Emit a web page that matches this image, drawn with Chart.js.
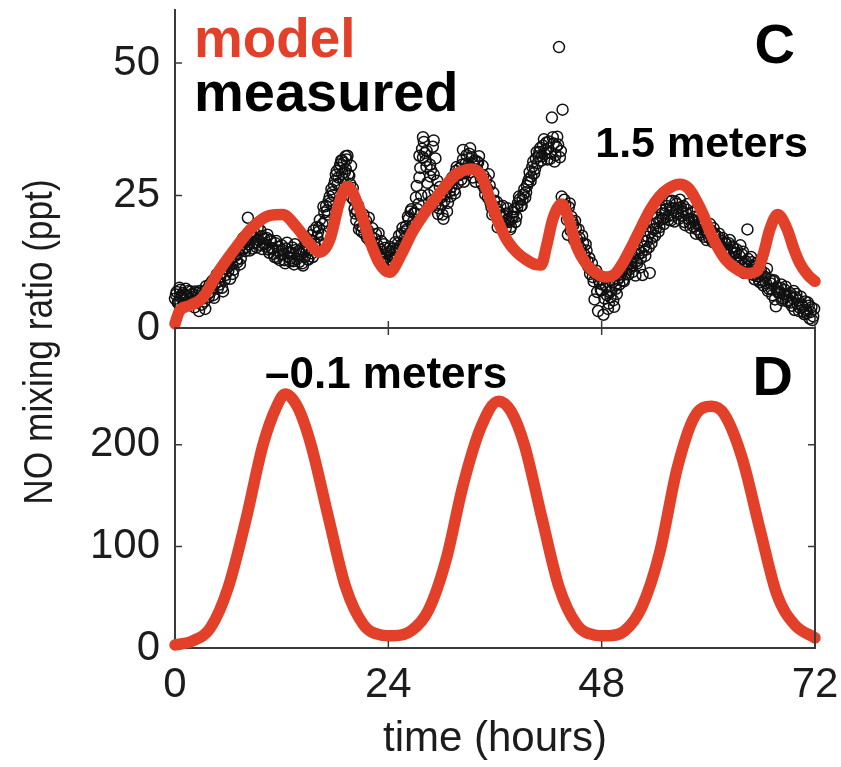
<!DOCTYPE html>
<html>
<head>
<meta charset="utf-8">
<script src="https://cdn.jsdelivr.net/npm/chart.js@4.4.1/dist/chart.umd.min.js"></script>
<style>
  html, body { margin: 0; padding: 0; background: #fff; }
  #wrap { position: relative; width: 841px; height: 767px; }
  canvas { position: absolute; left: 0; top: 0; }
</style>
</head>
<body>
<div id="wrap">
  <canvas id="panelC" width="841" height="767"></canvas>
  <canvas id="panelD" width="841" height="767"></canvas>
</div>
<script>
const SANS = '"Liberation Sans", Arial, Helvetica, sans-serif';
const RED = '#e3402a';
const INK = '#1c1c1c';
const AXIS = '#3a3a3a';

// tick values
const hourTicks = [0, 24, 48, 72];
const ticksC = [0, 25, 50];
const ticksD = [0, 100, 200];

// panel C, model at 1.5 m
const modelCHours = [0, 0.5, 1.6, 3.1, 5.0, 6.9, 8.7, 10.6, 12.1, 13.7, 15.1, 16.3, 17.4, 18.5, 19.4, 20.8, 21.9, 23.0, 24.1,
  25.5, 26.6, 27.8, 29.5, 31.5, 33.4, 34.5, 35.5, 36.5, 37.5, 38.5, 39.5, 40.5, 41.2, 41.8, 42.5, 43.5, 44.3, 45.2, 46.3, 47.4,
  48.5, 49.5, 50.5, 51.5, 52.5, 53.5, 54.5, 55.5, 56.8, 57.8, 58.6, 59.4, 60.1, 61.0, 62.0, 63.0, 64.3, 65.5, 66.2, 66.9, 67.8,
  68.9, 69.6, 70.3, 71.2, 72];
const modelCValues = [0.8, 3.2, 4.2, 5.7, 10.9, 15.3, 19.0, 21.2, 21.4, 19.0, 16.0, 14.3, 16.6, 23.7, 26.7, 22.3, 16.6, 12.2, 10.5,
  14.0, 17.8, 21.0, 24.8, 28.8, 30.0, 28.6, 24.0, 19.5, 16.2, 14.2, 12.9, 12.0, 11.9, 15.5, 20.5, 23.4, 20.5, 15.3, 12.0, 10.3,
  9.6, 10.2, 12.6, 15.8, 19.2, 22.4, 24.8, 26.3, 27.1, 26.3, 24.2, 21.5, 18.5, 15.4, 12.8, 11.3, 10.3, 10.8, 14.0, 18.5, 21.4,
  18.5, 15.0, 12.2, 10.0, 8.8];

// panel C, measured: one row per hour, samples every 12 min (two interleaved passes)
const measuredStep = 0.2;
const measuredRows = [
  [5.5, 6.8, 4.9, 7.2, 6.1],
  [5.2, 7.4, 6.0, 4.6, 6.9],
  [5.8, 3.9, 6.6, 5.1, 7.0],
  [4.4, 6.2, 3.6, 7.3, 5.9],
  [6.8, 8.9, 5.7, 9.6, 7.4],
  [8.2, 10.4, 6.9, 9.1, 11.2],
  [10.8, 9.3, 12.1, 11.0, 13.6],
  [12.4, 14.8, 13.1, 16.2, 15.0],
  [15.3, 20.8, 14.6, 17.4, 16.0],
  [17.8, 15.2, 16.6, 18.4, 14.9],
  [16.9, 15.4, 17.6, 14.2, 16.3],
  [15.0, 13.4, 16.4, 14.6, 12.8],
  [15.6, 13.9, 12.2, 16.1, 14.3],
  [13.1, 15.2, 12.0, 14.7, 13.6],
  [12.5, 14.9, 11.8, 13.4, 15.7],
  [12.9, 16.6, 14.1, 18.4, 15.2],
  [17.2, 18.9, 16.0, 19.6, 21.8],
  [23.0, 21.4, 24.8, 26.2, 25.1],
  [27.8, 29.6, 28.4, 30.9, 29.1],
  [31.2, 30.0, 32.5, 28.7, 30.6],
  [26.4, 22.5, 20.3, 23.1, 19.4],
  [18.2, 21.4, 19.6, 17.0, 20.8],
  [16.3, 18.8, 14.9, 17.7, 15.6],
  [13.6, 16.4, 12.4, 15.1, 14.0],
  [12.6, 15.3, 13.8, 11.9, 16.2],
  [14.8, 17.4, 15.6, 18.9, 16.8],
  [19.2, 21.0, 17.9, 22.4, 20.1],
  [21.6, 26.8, 23.4, 30.2, 33.8],
  [35.1, 31.6, 27.4, 22.8, 29.8],
  [34.2, 25.9, 24.0, 21.5, 26.6],
  [23.3, 20.6, 25.2, 22.0, 27.1],
  [24.8, 28.4, 26.0, 29.6, 27.3],
  [30.1, 28.0, 31.8, 29.2, 32.6],
  [30.8, 29.4, 32.2, 31.0, 27.6],
  [29.9, 32.4, 28.3, 30.6, 26.4],
  [28.0, 24.6, 26.9, 22.8, 25.5],
  [21.6, 23.8, 20.2, 22.9, 19.5],
  [21.2, 18.8, 22.6, 20.0, 19.1],
  [20.8, 22.4, 21.0, 23.6, 24.3],
  [23.1, 25.2, 24.6, 26.8, 28.0],
  [27.7, 30.4, 29.2, 32.0, 31.1],
  [33.2, 31.6, 34.4, 32.8, 35.0],
  [33.9, 31.9, 39.7, 34.8, 32.6],
  [36.1, 53.0, 33.4, 41.2, 24.2],
  [22.1, 17.6, 23.5, 21.0, 19.4],
  [20.2, 16.8, 18.6, 15.1, 17.4],
  [14.0, 15.8, 12.6, 13.2, 11.0],
  [9.6, 5.4, 10.8, 3.2, 8.4],
  [7.1, 2.5, 9.4, 6.2, 4.6],
  [5.8, 8.6, 4.0, 7.4, 9.1],
  [8.2, 10.6, 9.0, 12.4, 11.3],
  [10.1, 12.8, 11.6, 13.4, 9.9],
  [12.2, 14.6, 13.1, 10.0, 15.4],
  [14.8, 17.2, 10.4, 16.0, 18.6],
  [17.4, 19.8, 18.2, 20.4, 21.6],
  [19.6, 22.4, 21.0, 23.8, 20.3],
  [22.6, 20.1, 23.4, 21.5, 24.2],
  [21.2, 23.0, 19.4, 22.3, 20.6],
  [18.9, 21.8, 20.2, 17.8, 20.9],
  [19.3, 17.6, 20.4, 18.4, 16.6],
  [18.0, 19.6, 16.9, 18.8, 17.4],
  [16.2, 17.8, 15.4, 17.0, 14.6],
  [15.9, 13.8, 16.6, 14.4, 15.2],
  [13.2, 14.8, 12.4, 15.6, 13.9],
  [10.4, 12.6, 18.6, 11.8, 13.4],
  [11.0, 9.2, 12.2, 10.4, 8.6],
  [10.1, 8.0, 9.6, 11.2, 7.4],
  [8.4, 6.2, 9.0, 4.1, 7.6],
  [6.8, 8.2, 5.6, 7.2, 6.0],
  [5.3, 6.6, 4.2, 7.0, 5.8],
  [4.6, 3.2, 5.9, 4.0, 2.6],
  [3.4, 4.8, 1.8, 3.9, 2.2]
];
// second pass, 6 min after each sample above
const measuredOffsetB = 0.1;
const measuredRowsB = [
  [6.3, 4.8, 7.6, 5.7, 6.6],
  [6.1, 4.9, 7.0, 5.5, 6.4],
  [4.7, 6.9, 5.3, 3.2, 6.1],
  [6.8, 5.0, 7.9, 6.4, 8.2],
  [7.9, 6.2, 8.4, 10.1, 8.8],
  [9.7, 7.6, 11.8, 10.0, 12.3],
  [11.7, 13.0, 10.2, 14.4, 12.8],
  [14.1, 12.0, 15.6, 17.0, 14.5],
  [16.7, 15.8, 18.2, 15.0, 17.1],
  [16.2, 18.9, 15.7, 17.3, 16.0],
  [15.8, 17.0, 14.8, 16.6, 15.1],
  [14.0, 16.0, 13.2, 15.3, 13.9],
  [14.7, 12.8, 15.0, 13.5, 12.6],
  [14.2, 12.6, 15.8, 13.0, 14.5],
  [13.9, 12.2, 14.3, 16.4, 13.0],
  [14.8, 17.5, 13.4, 15.9, 19.0],
  [18.1, 20.4, 17.6, 22.9, 20.2],
  [22.2, 24.0, 23.6, 25.6, 27.0],
  [28.9, 27.2, 30.2, 31.6, 28.2],
  [29.4, 31.8, 29.0, 27.2, 24.6],
  [24.2, 21.6, 22.0, 18.6, 21.2],
  [19.0, 17.8, 20.2, 18.4, 16.5],
  [17.2, 15.4, 16.8, 14.4, 17.9],
  [14.8, 13.0, 15.8, 13.3, 12.8],
  [14.4, 12.9, 15.0, 13.2, 14.6],
  [16.0, 15.0, 17.9, 16.2, 18.2],
  [18.6, 20.6, 22.0, 19.4, 21.7],
  [24.6, 22.4, 28.4, 25.0, 32.2],
  [33.0, 30.4, 25.1, 28.6, 24.0],
  [29.0, 23.2, 27.8, 22.6, 24.6],
  [21.4, 24.0, 26.2, 23.6, 25.8],
  [26.6, 27.9, 25.4, 30.4, 28.8],
  [29.0, 30.8, 27.6, 31.0, 30.2],
  [32.9, 30.2, 28.4, 31.6, 29.8],
  [31.2, 29.0, 27.2, 28.8, 25.2],
  [26.4, 29.0, 23.6, 21.4, 24.0],
  [22.6, 19.0, 21.8, 20.8, 23.0],
  [19.8, 21.6, 20.4, 18.6, 21.0],
  [21.8, 20.0, 22.8, 24.8, 23.0],
  [24.2, 26.2, 25.6, 27.4, 29.4],
  [28.6, 31.4, 30.0, 33.2, 32.4],
  [34.0, 32.4, 35.6, 33.6, 31.8],
  [35.2, 33.0, 36.0, 31.4, 34.2],
  [34.6, 32.2, 24.8, 22.6, 23.2],
  [20.4, 22.8, 18.4, 20.0, 16.6],
  [18.8, 15.8, 17.0, 14.2, 16.0],
  [12.8, 14.6, 11.6, 10.2, 12.2],
  [8.8, 10.2, 6.8, 9.0, 7.2],
  [8.2, 5.6, 7.8, 3.6, 6.8],
  [7.0, 5.2, 8.0, 6.4, 10.0],
  [9.6, 11.4, 8.8, 10.2, 12.0],
  [11.0, 12.2, 10.6, 14.0, 12.6],
  [13.8, 11.4, 14.2, 16.4, 13.6],
  [16.4, 15.2, 18.0, 17.0, 19.6],
  [18.8, 20.8, 19.0, 22.2, 20.6],
  [21.6, 23.0, 20.4, 22.6, 24.0],
  [21.2, 23.8, 22.0, 20.6, 22.8],
  [22.0, 20.0, 21.6, 23.4, 19.8],
  [20.6, 19.2, 21.0, 18.6, 19.6],
  [18.0, 20.0, 17.2, 19.0, 18.2],
  [17.0, 18.4, 16.2, 17.8, 16.0],
  [17.2, 15.0, 16.4, 14.2, 16.0],
  [14.8, 16.0, 13.2, 15.4, 14.0],
  [14.2, 12.8, 13.6, 11.8, 14.4],
  [12.0, 11.2, 13.0, 10.8, 12.4],
  [10.0, 11.6, 9.8, 9.0, 11.0],
  [9.0, 10.4, 8.4, 7.0, 9.2],
  [7.4, 8.8, 5.4, 7.0, 6.6],
  [7.6, 5.2, 6.4, 7.8, 5.0],
  [6.2, 4.8, 5.6, 3.4, 6.4],
  [5.2, 3.8, 4.4, 3.0, 5.0],
  [2.8, 4.2, 3.0, 1.5, 3.6]
];
// extra samples in the dense spots
const measuredExtraHours = [18.8, 19.2, 27.5, 27.9, 28.3, 28.7, 29.1, 29.3, 32.4, 33.2, 34.0];
const measuredExtraValues = [31.6, 32.4, 32.5, 36.0, 33.4, 30.8, 35.4, 32.0, 33.6, 33.9, 31.4];

// panel D, model at -0.1 m
const modelDHours = [0, 2, 4, 6, 8, 9.9, 11.4, 12.4, 13.8, 15.3, 17.3, 19.2, 21.2, 23.1, 24.6, 26.6, 28.5, 30.5, 32.4, 34.4,
  36.4, 37.8, 39.3, 41.3, 43.2, 45.2, 47.1, 48.6, 50.6, 52.5, 54.5, 56.5, 58.4, 60.4, 61.8, 63.8, 65.8, 67.7, 69.7, 72];
const modelDValues = [3, 7, 20, 60, 127, 200, 237, 250, 237, 200, 127, 60, 23, 13, 12, 17, 37, 87, 160, 217,
  243, 233, 200, 127, 60, 23, 13, 12, 17, 40, 93, 177, 227, 238, 230, 187, 117, 53, 23, 10];

const toXY = (xs, ys) => xs.map((x, i) => ({ x: x, y: ys[i] }));

const measuredPoints = [];
measuredRows.forEach((row, hour) => {
  row.forEach((v, k) => measuredPoints.push({ x: hour + k * measuredStep, y: v }));
});
measuredRowsB.forEach((row, hour) => {
  row.forEach((v, k) => measuredPoints.push({ x: hour + measuredOffsetB + k * measuredStep, y: v }));
});
measuredExtraHours.forEach((h, i) => measuredPoints.push({ x: h, y: measuredExtraValues[i] }));

function drawLabel(ctx, text, x, y, size, color, align, squeeze) {
  ctx.save();
  ctx.translate(x, y);
  ctx.scale(squeeze, 1);
  ctx.font = 'bold ' + size + 'px ' + SANS;
  ctx.fillStyle = color;
  ctx.textAlign = align;
  ctx.textBaseline = 'alphabetic';
  ctx.fillText(text, 0, 0);
  ctx.restore();
}

// inward tick marks (and the closing box lines for panel D)
function tickMarks(chart, spec) {
  const { ctx, chartArea: a, scales } = chart;
  const x = scales.x, y = scales.y;
  const len = 7;
  ctx.save();
  ctx.strokeStyle = AXIS;
  ctx.lineWidth = 1.5;
  ctx.beginPath();
  (spec.left || []).forEach(v => { const p = y.getPixelForValue(v); ctx.moveTo(a.left, p); ctx.lineTo(a.left + len, p); });
  (spec.right || []).forEach(v => { const p = y.getPixelForValue(v); ctx.moveTo(a.right, p); ctx.lineTo(a.right - len, p); });
  (spec.bottom || []).forEach(v => { const p = x.getPixelForValue(v); ctx.moveTo(p, a.bottom); ctx.lineTo(p, a.bottom - len); });
  (spec.top || []).forEach(v => { const p = x.getPixelForValue(v); ctx.moveTo(p, a.top); ctx.lineTo(p, a.top + len); });
  ctx.stroke();
  if (spec.box) {
    ctx.lineWidth = 2;
    ctx.beginPath();
    ctx.moveTo(a.left, a.top);
    ctx.lineTo(a.right, a.top);
    ctx.lineTo(a.right, a.bottom);
    ctx.stroke();
  }
  ctx.restore();
}

const panelCDecor = {
  id: 'panelCDecor',
  afterDraw(chart) {
    const { ctx, chartArea: a } = chart;
    tickMarks(chart, { left: [25, 50], bottom: [24, 48, 72] });
    drawLabel(ctx, 'model', a.left + 19, 57, 56, RED, 'left', 0.98);
    drawLabel(ctx, 'measured', a.left + 19, 111, 56, '#000', 'left', 1);
    drawLabel(ctx, 'C', a.right - 20, 63, 56, '#000', 'right', 1);
    drawLabel(ctx, '1.5 meters', a.right - 7, 157, 43, '#000', 'right', 1);
  }
};

const panelDDecor = {
  id: 'panelDDecor',
  afterDraw(chart) {
    const { ctx, chartArea: a } = chart;
    tickMarks(chart, { left: [100, 200], right: [100, 200], bottom: [24, 48], top: [24, 48], box: true });
    drawLabel(ctx, '\u20130.1 meters', a.left + 90, 388, 44, '#000', 'left', 1);
    drawLabel(ctx, 'D', a.right - 22, 395, 56, '#000', 'right', 1);
    // shared y title for both panels
    ctx.save();
    ctx.translate(41, 342);
    ctx.rotate(-Math.PI / 2);
    ctx.scale(0.86, 1);
    ctx.font = '41px ' + SANS;
    ctx.fillStyle = INK;
    ctx.textAlign = 'center';
    ctx.textBaseline = 'middle';
    ctx.fillText('NO mixing ratio (ppt)', 0, 0);
    ctx.restore();
  }
};

function yScale(max, values) {
  return {
    type: 'linear',
    min: 0,
    max: max,
    afterBuildTicks: s => { s.ticks = values.map(v => ({ value: v })); },
    afterFit: s => { s.width = 175; s.paddingTop = 0; s.paddingBottom = 0; },
    ticks: { font: { family: SANS, size: 42 }, color: INK, padding: 15 },
    grid: { display: false, drawTicks: false },
    border: { display: true, color: AXIS, width: 2 }
  };
}

function xScale(height, showLabels) {
  return {
    type: 'linear',
    min: 0,
    max: 72,
    afterBuildTicks: s => { s.ticks = hourTicks.map(v => ({ value: v })); },
    afterFit: s => { s.height = height; s.paddingLeft = 0; s.paddingRight = 0; },
    ticks: { display: showLabels, font: { family: SANS, size: 42 }, color: INK, padding: 12 },
    grid: { display: false, drawTicks: false },
    border: { display: true, color: AXIS, width: 2 },
    title: {
      display: showLabels,
      text: 'time (hours)',
      font: { family: SANS, size: 42 },
      color: INK,
      padding: { top: 0, bottom: 2 }
    }
  };
}

Chart.defaults.font.family = SANS;

new Chart(document.getElementById('panelC'), {
  type: 'scatter',
  data: {
    datasets: [
      {
        label: 'model',
        data: toXY(modelCHours, modelCValues),
        showLine: true,
        borderColor: RED,
        borderWidth: 11.5,
        borderCapStyle: 'round',
        borderJoinStyle: 'round',
        cubicInterpolationMode: 'monotone',
        pointRadius: 0,
        clip: false,
        order: 0
      },
      {
        label: 'measured',
        data: measuredPoints,
        pointStyle: 'circle',
        pointRadius: 5.5,
        pointBorderWidth: 1.5,
        pointBackgroundColor: 'rgba(0,0,0,0)',
        pointBorderColor: '#111',
        clip: false,
        order: 1
      }
    ]
  },
  options: {
    responsive: false,
    animation: false,
    devicePixelRatio: 1,
    events: [],
    layout: { padding: { top: 10, right: 26, bottom: 439, left: 0 } },
    scales: { x: xScale(0, false), y: yScale(60, ticksC) },
    plugins: { legend: { display: false }, tooltip: { enabled: false } }
  },
  plugins: [panelCDecor]
});

new Chart(document.getElementById('panelD'), {
  type: 'scatter',
  data: {
    datasets: [
      {
        label: 'model',
        data: toXY(modelDHours, modelDValues),
        showLine: true,
        borderColor: RED,
        borderWidth: 11.5,
        borderCapStyle: 'round',
        borderJoinStyle: 'round',
        cubicInterpolationMode: 'monotone',
        pointRadius: 0,
        clip: false
      }
    ]
  },
  options: {
    responsive: false,
    animation: false,
    devicePixelRatio: 1,
    events: [],
    layout: { padding: { top: 328, right: 26, bottom: 0, left: 0 } },
    scales: { x: xScale(119, true), y: yScale(315, ticksD) },
    plugins: { legend: { display: false }, tooltip: { enabled: false } }
  },
  plugins: [panelDDecor]
});
</script>
</body>
</html>
